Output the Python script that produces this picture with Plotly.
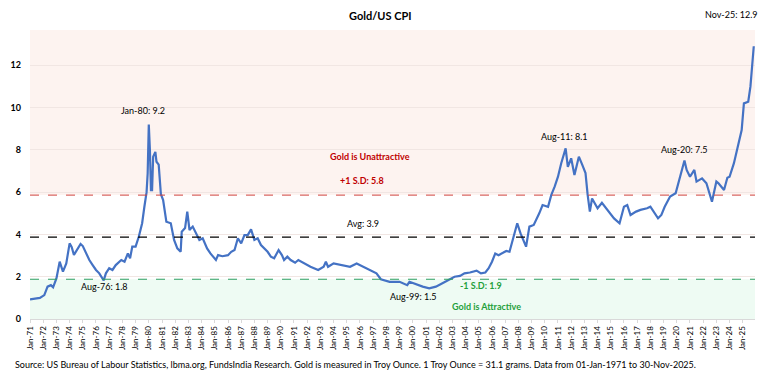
import plotly.graph_objects as go

# ---- data ----
dates = [
    "1971-01", "1971-07", "1971-10", "1972-02", "1972-05", "1972-08", "1972-10",
    "1973-01", "1973-04", "1973-07", "1973-10", "1974-01", "1974-03", "1974-05",
    "1974-08", "1974-11", "1975-01", "1975-04", "1975-07", "1975-10", "1976-01",
    "1976-04", "1976-08", "1976-10", "1977-01", "1977-04", "1977-07", "1977-12",
    "1978-03", "1978-06", "1978-08", "1978-10", "1979-01", "1979-04", "1979-07",
    "1979-09", "1979-10", "1979-11", "1979-12", "1980-01", "1980-02", "1980-03",
    "1980-04", "1980-05", "1980-07", "1980-08", "1980-10", "1980-12", "1981-02",
    "1981-05", "1981-09", "1981-12", "1982-03", "1982-06", "1982-07", "1982-10",
    "1982-12", "1983-02", "1983-05", "1983-08", "1983-11", "1984-02", "1984-06",
    "1984-09", "1985-02", "1985-04", "1985-08", "1986-01", "1986-04", "1986-07",
    "1986-10", "1987-01", "1987-04", "1987-07", "1987-10", "1988-01", "1988-04",
    "1988-07", "1988-10", "1989-01", "1989-04", "1989-07", "1989-11", "1990-02",
    "1990-04", "1990-07", "1990-10", "1991-02", "1991-05", "1991-10", "1992-04",
    "1992-11", "1993-04", "1993-06", "1993-08", "1994-01", "1994-10", "1995-04",
    "1995-10", "1996-04", "1996-10", "1997-04", "1997-08", "1998-04", "1999-01",
    "1999-08", "1999-10", "2000-03", "2000-10", "2001-04", "2001-10", "2002-04",
    "2002-10", "2003-03", "2003-08", "2003-12", "2004-05", "2004-11", "2005-03",
    "2005-07", "2005-10", "2006-01", "2006-04", "2006-07", "2006-11", "2007-02",
    "2007-05", "2007-08", "2007-12", "2008-03", "2008-08", "2008-11", "2009-03",
    "2009-08", "2009-11", "2010-04", "2010-07", "2010-10", "2011-01", "2011-04",
    "2011-08", "2011-10", "2012-01", "2012-04", "2012-08", "2012-11", "2013-02",
    "2013-04", "2013-06", "2013-08", "2014-01", "2014-05", "2014-10", "2015-04",
    "2015-09", "2016-01", "2016-04", "2016-07", "2016-12", "2017-04", "2017-10",
    "2018-01", "2018-08", "2018-11", "2019-02", "2019-07", "2019-12", "2020-03",
    "2020-08", "2020-10", "2021-01", "2021-05", "2021-07", "2021-12", "2022-04",
    "2022-09", "2022-11", "2023-01", "2023-03", "2023-08", "2023-11", "2024-01",
    "2024-05", "2024-08", "2024-10", "2024-12", "2025-02", "2025-06", "2025-08",
    "2025-11",
]
gold_cpi = [
    0.93, 0.97, 1.00, 1.13, 1.53, 1.60, 1.50,
    1.92, 2.71, 2.24, 2.63, 3.58, 3.40, 3.03,
    3.26, 3.55, 3.45, 3.10, 2.79, 2.55, 2.32,
    2.16, 1.82, 2.16, 2.40, 2.32, 2.55, 2.79,
    2.71, 3.10, 2.87, 3.42, 3.42, 3.90, 4.53,
    5.31, 5.79, 6.00, 6.89, 9.20, 8.00, 6.10,
    6.10, 7.68, 7.90, 7.44, 7.30, 5.90, 5.63,
    4.60, 4.53, 3.74, 3.34, 3.18, 4.13, 4.30,
    5.08, 4.21, 4.37, 4.05, 3.74, 3.82, 3.34,
    3.10, 2.79, 3.02, 2.97, 3.02, 3.18, 3.26,
    3.82, 3.58, 3.97, 3.97, 4.24, 3.74, 3.82,
    3.50, 3.34, 3.18, 2.95, 2.87, 3.26, 3.02,
    2.79, 2.95, 2.79, 2.66, 2.79, 2.63, 2.47,
    2.32, 2.47, 2.71, 2.47, 2.63, 2.55, 2.47,
    2.63, 2.47, 2.32, 2.16, 1.88, 1.76, 1.76,
    1.60, 1.76, 1.65, 1.53, 1.45, 1.53, 1.69,
    1.84, 2.00, 2.04, 2.16, 2.20, 2.29, 2.16,
    2.20, 2.40, 2.71, 3.10, 3.02, 3.13, 3.22,
    3.18, 3.74, 4.53, 4.05, 3.42, 4.37, 4.45,
    5.00, 5.39, 5.31, 5.87, 6.26, 6.73, 7.37,
    8.07, 7.20, 7.60, 6.81, 7.68, 7.30, 6.90,
    5.87, 5.08, 5.70, 5.24, 5.50, 5.16, 4.76,
    4.53, 5.31, 5.39, 4.92, 5.08, 5.16, 5.24,
    5.31, 4.76, 4.92, 5.31, 5.79, 5.95, 6.58,
    7.50, 7.05, 6.73, 7.05, 6.50, 6.65, 6.42,
    5.55, 6.10, 6.50, 6.42, 6.10, 6.68, 6.73,
    7.37, 8.00, 8.47, 8.94, 10.20, 10.28, 11.00,
    12.90,
]
avg_value = 3.87
plus_sd = 5.86
minus_sd = 1.88

tick_years = list(range(1971, 2026))
tick_vals = [f"{y}-01-01" for y in tick_years]
tick_text = [f"Jan-{y % 100:02d}" for y in tick_years]

y_ticks = [0, 2, 4, 6, 8, 10, 12]

FONT = "Lato, Open Sans, sans-serif"
Y_TOP = 13.67

fig = go.Figure()
fig.add_trace(go.Scatter(
    x=dates, y=gold_cpi, mode="lines",
    line=dict(color="#4472C4", width=2.2),
    hoverinfo="x+y", showlegend=False,
))

shapes = [
    dict(type="rect", xref="paper", yref="y", x0=0, x1=1, y0=plus_sd, y1=Y_TOP,
         fillcolor="#FDF3F0", line=dict(width=0), layer="below"),
    dict(type="rect", xref="paper", yref="y", x0=0, x1=1, y0=0, y1=minus_sd,
         fillcolor="#EEFBF3", line=dict(width=0), layer="below"),
    dict(type="line", xref="paper", yref="y", x0=0, x1=1, y0=plus_sd, y1=plus_sd,
         line=dict(color="#D0443E", width=1, dash="dash")),
    dict(type="line", xref="paper", yref="y", x0=0, x1=1, y0=avg_value, y1=avg_value,
         line=dict(color="#000000", width=1.3, dash="dash")),
    dict(type="line", xref="paper", yref="y", x0=0, x1=1, y0=minus_sd, y1=minus_sd,
         line=dict(color="#2E9E62", width=1, dash="dash")),
]

W, H = 761, 372
L, R, T, B = 30, 6, 30, 53
pw, ph = W - L - R, H - T - B


def px_to_paper(xp, yp):
    return (xp - L) / pw, (H - B - yp) / ph


def ann(text, x, y, color="#000000", bold=False, size=9, xanchor="center", xref="x", yref="y"):
    return dict(text=f"<b>{text}</b>" if bold else text, x=x, y=y, xref=xref, yref=yref,
                showarrow=False, xanchor=xanchor, yanchor="middle",
                font=dict(family=FONT, size=size, color=color))


tx, ty = px_to_paper(380, 16)
sx, sy = px_to_paper(13, 364)
nx, ny = px_to_paper(759, 14)

annotations = [
    ann("Jan-80: 9.2", "1979-07-15", 9.85),
    ann("Aug-76: 1.8", "1976-09-01", 1.54),
    ann("Aug-99: 1.5", "2000-02-01", 1.08),
    ann("Aug-11: 8.1", "2011-07-01", 8.62),
    ann("Aug-20: 7.5", "2020-08-01", 8.04),
    ann("Nov-25: 12.9", nx, ny, xanchor="right", xref="paper", yref="paper"),
    ann("Gold is Unattractive", "1996-10-01", 7.68, color="#C00000", bold=True),
    ann("+1 S.D: 5.8", "1996-03-01", 6.55, color="#C00000", bold=True),
    ann("Avg: 3.9", "1996-04-01", 4.5),
    ann("-1 S.D: 1.9", "2005-03-01", 1.57, color="#1FA03A", bold=True),
    ann("Gold is Attractive", "2005-08-01", 0.58, color="#1FA03A", bold=True),
    ann("Gold/US CPI", tx, ty, bold=True, size=11, xref="paper", yref="paper"),
    ann("Source: US Bureau of Labour Statistics, lbma.org, FundsIndia Research. "
        "Gold is measured in Troy Ounce. 1 Troy Ounce = 31.1 grams. "
        "Data from 01-Jan-1971 to 30-Nov-2025.",
        sx, sy, xanchor="left", xref="paper", yref="paper"),
]

fig.update_layout(
    width=W, height=H,
    margin=dict(l=L, r=R, t=T, b=B),
    paper_bgcolor="#FFFFFF", plot_bgcolor="#FFFFFF",
    font=dict(family=FONT, size=9, color="#000000"),
    shapes=shapes, annotations=annotations,
    xaxis=dict(
        type="date", range=["1971-01-01", "2025-12-05"],
        tickmode="array", tickvals=tick_vals, ticktext=tick_text,
        tickangle=-90, tickfont=dict(family=FONT, size=8, color="#000000"),
        showgrid=False, showline=True, linecolor="#D9D9D9", linewidth=1,
        ticks="outside", ticklen=3, tickcolor="#D9D9D9", zeroline=False,
    ),
    yaxis=dict(
        range=[0, Y_TOP], tickmode="array", tickvals=y_ticks,
        ticktext=[f"<b>{v}</b>" for v in y_ticks],
        tickfont=dict(family=FONT, size=9, color="#000000"),
        showgrid=True, gridcolor="#F1E6E3", gridwidth=1, zeroline=False,
        showline=False, ticks="", ticklabelstandoff=8,
    ),
)

fig.write_html(
    "out.html",
    config={"displayModeBar": False},
    post_script="document.body.style.margin='0';document.body.style.padding='0';",
)
